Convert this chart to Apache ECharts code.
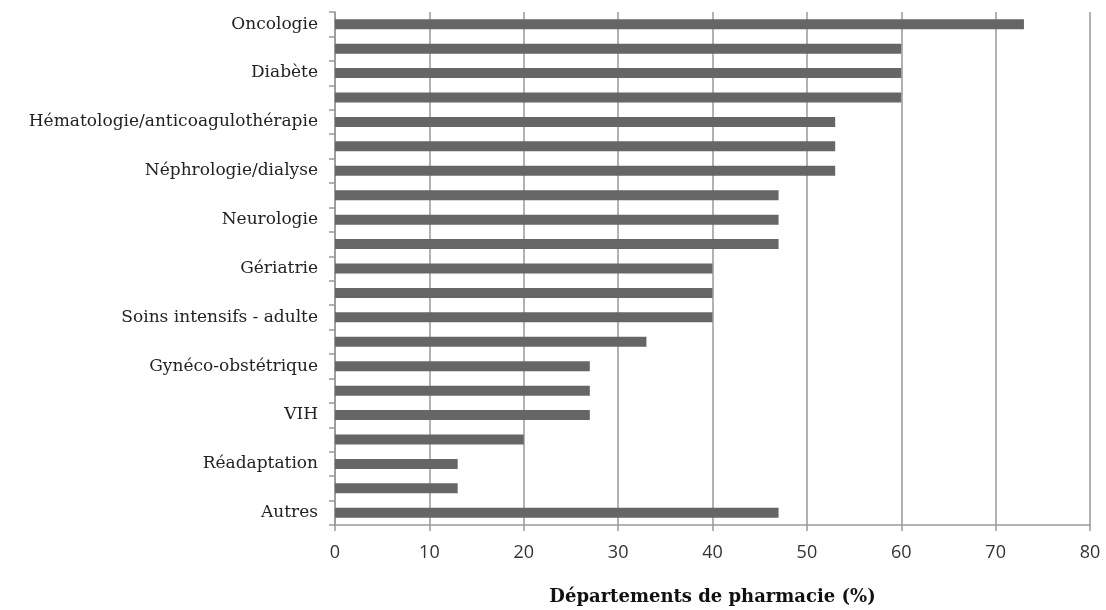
<!DOCTYPE html>
<html>
<head>
<meta charset="utf-8">
<script src="https://cdn.jsdelivr.net/npm/echarts@6/dist/echarts.min.js"></script>
<style>
  html, body { margin: 0; padding: 0; background: #fff; }
  #chart { width: 1106px; height: 610px; }
</style>
</head>
<body>
<div id="chart"></div>
<script>
// categories, top to bottom (unlabeled rows in the source have no visible name)
const categories = [
  'Oncologie', '', 'Diabète', '', 'Hématologie/anticoagulothérapie', '',
  'Néphrologie/dialyse', '', 'Neurologie', '', 'Gériatrie', '',
  'Soins intensifs - adulte', '', 'Gynéco-obstétrique', '', 'VIH', '',
  'Réadaptation', '', 'Autres'
];
const values = [73, 60, 60, 60, 53, 53, 53, 47, 47, 47, 40, 40, 40, 33, 27, 27, 27, 20, 13, 13, 47];
const xTicks = [0, 10, 20, 30, 40, 50, 60, 70, 80];

const chart = echarts.init(document.getElementById('chart'));
chart.setOption({
  animation: false,
  grid: { left: 335, right: 16, top: 12, bottom: 85, containLabel: false, outerBoundsMode: 'none' },
  xAxis: {
    type: 'value',
    min: xTicks[0],
    max: xTicks[xTicks.length - 1],
    interval: 10,
    name: 'Départements de pharmacie (%)',
    nameLocation: 'middle',
    nameGap: 63,
    nameTextStyle: { fontFamily: 'DejaVu Serif', fontWeight: 'bold', fontSize: 18, color: '#111' },
    axisLine: { show: true, lineStyle: { color: '#999', width: 1.5 } },
    axisTick: { show: true, length: 6, lineStyle: { color: '#999', width: 1.5 } },
    axisLabel: { fontFamily: 'Open Sans', fontSize: 18, color: '#333', margin: 19 },
    splitLine: { show: true, lineStyle: { color: '#999', width: 1.5 } }
  },
  yAxis: {
    type: 'category',
    data: categories,
    inverse: true,
    axisLine: { show: true, lineStyle: { color: '#999', width: 1.5 } },
    axisTick: { show: true, interval: 0, length: 6, lineStyle: { color: '#999', width: 1.5 } },
    axisLabel: { interval: 0, fontFamily: 'DejaVu Serif', fontSize: 17, color: '#222', margin: 17 },
    splitLine: { show: false }
  },
  series: [{
    type: 'bar',
    data: values,
    barWidth: 10,
    itemStyle: { color: '#666666' }
  }]
});
</script>
</body>
</html>
